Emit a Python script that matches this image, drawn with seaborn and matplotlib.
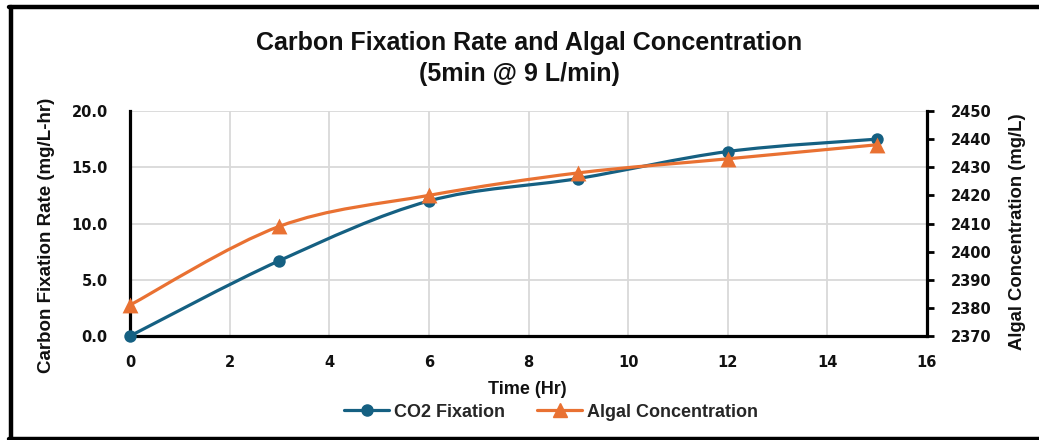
import numpy as np
import matplotlib
matplotlib.use("Agg")
import matplotlib.pyplot as plt
import seaborn as sns
from matplotlib.path import Path
from matplotlib.patches import PathPatch
from matplotlib.lines import Line2D

# ---- data ----
time_hr = [0, 3, 6, 9, 12, 15]
co2_fixation = [0.0, 6.7, 12.0, 14.0, 16.4, 17.5]
algal_conc = [2381, 2409, 2420, 2428, 2433, 2438]
x_ticks = [0, 2, 4, 6, 8, 10, 12, 14, 16]
left_ticks = [0, 5, 10, 15, 20]
right_ticks = [2370, 2380, 2390, 2400, 2410, 2420, 2430, 2440, 2450]
series_names = ["CO2 Fixation", "Algal Concentration"]

BLUE = "#156082"
ORANGE = "#E97132"
TXT = "#111111"

sns.set_theme(style="white")
plt.rcParams['font.family'] = ['Liberation Sans', 'DejaVu Sans']
TICKFAM = ['DejaVu Sans']

fig = plt.figure(figsize=(10.39, 4.4), dpi=100)
ax = fig.add_axes([130/1039, 1-336/440, (927-130)/1039, (336-111)/440])
ax2 = ax.twinx()


def smooth_path(xs, ys):
    pts = np.column_stack([xs, ys]).astype(float)
    n = len(pts)
    verts = [pts[0]]
    codes = [Path.MOVETO]
    for i in range(n - 1):
        p0 = pts[i - 1] if i > 0 else pts[i]
        p1 = pts[i]
        p2 = pts[i + 1]
        p3 = pts[i + 2] if i + 2 < n else pts[i + 1]
        c1 = p1 + (p2 - p0) / 6.0
        c2 = p2 - (p3 - p1) / 6.0
        verts += [c1, c2, p2]
        codes += [Path.CURVE4] * 3
    return Path(verts, codes)


# smoothed lines, as in the reference
ax.add_patch(PathPatch(smooth_path(time_hr, co2_fixation), fill=False,
                       edgecolor=BLUE, lw=2.3, zorder=3))
ax2.add_patch(PathPatch(smooth_path(time_hr, algal_conc), fill=False,
                        edgecolor=ORANGE, lw=2.3, zorder=3))

sns.scatterplot(x=time_hr, y=co2_fixation, ax=ax, color=BLUE, marker="o",
                s=80, edgecolor=BLUE, linewidth=0, zorder=4, clip_on=False)
sns.scatterplot(x=time_hr, y=algal_conc, ax=ax2, color=ORANGE, marker="^",
                s=130, edgecolor=ORANGE, linewidth=0, zorder=4, clip_on=False)

ax.set_xlim(0, 16)
ax.set_ylim(0, 20)
ax2.set_ylim(2370, 2450)
ax.set_xticks(x_ticks)
ax.set_xticklabels([str(v) for v in x_ticks])
ax.set_yticks(left_ticks)
ax.set_yticklabels([f"{v:.1f}" for v in left_ticks])
ax2.set_yticks(right_ticks)
ax2.set_yticklabels([str(v) for v in right_ticks])

ax.grid(True, color="#d9d9d9", lw=1.3)
ax.set_axisbelow(True)
ax2.grid(False)

for s in ["top", "right"]:
    ax.spines[s].set_visible(False)
for s in ["top", "left", "bottom"]:
    ax2.spines[s].set_visible(False)
for sp in [ax.spines["left"], ax.spines["bottom"], ax2.spines["right"]]:
    sp.set_color("black")
    sp.set_linewidth(2.3)

ax.tick_params(axis="x", length=0, pad=14)
ax.tick_params(axis="y", length=0, pad=16)
ax2.tick_params(axis="y", length=5, width=2, direction="out", pad=12,
                colors="black", right=True)
for lab in ax.get_xticklabels() + ax.get_yticklabels() + ax2.get_yticklabels():
    lab.set_fontweight("bold")
    lab.set_color(TXT)
    lab.set_fontsize(10.5)
    lab.set_family(TICKFAM)

ax.set_xlabel("Time (Hr)", fontsize=13, fontweight="bold", color=TXT)
ax.xaxis.set_label_coords(0.498, -(389-336)/225)
ax.xaxis.label.set_va("center")

ax.set_ylabel("Carbon Fixation Rate (mg/L-hr)", fontsize=13.5,
              fontweight="bold", color=TXT)
ax.yaxis.set_label_coords((47-130)/797, (336-235)/225)
ax.yaxis.label.set_va("center")

ax2.set_ylabel("Algal Concentration (mg/L)", fontsize=13.3, fontweight="bold",
               color=TXT)
ax2.yaxis.set_label_coords((1017-130)/797, (336-232)/225)
ax2.yaxis.label.set_va("center")

fig.text(529/1039, 1-43/440, "Carbon Fixation Rate and Algal Concentration",
         ha="center", va="center", fontsize=18, fontweight="bold", color=TXT)
fig.text(519/1039, 1-74/440, "(5min @ 9 L/min)",
         ha="center", va="center", fontsize=18, fontweight="bold", color=TXT)

handles = [
    Line2D([0], [0], color=BLUE, lw=2.3, marker="o", markersize=8),
    Line2D([0], [0], color=ORANGE, lw=2.3, marker="^", markersize=10),
]
fig.legend(handles, series_names,
           loc="center", bbox_to_anchor=(551/1039, 1-412/440), ncol=2,
           frameon=False, handlelength=2.5, columnspacing=1.8,
           handletextpad=0.25,
           prop={"size": 13, "weight": "bold",
                 "family": ['Liberation Sans', 'DejaVu Sans']})

# outer chart border (top, left, bottom)
fig.add_artist(Line2D([9/1039, 1.0], [1-7/440, 1-7/440], color="black", lw=3.2,
                      transform=fig.transFigure))
fig.add_artist(Line2D([11/1039, 11/1039], [1-7/440, 1-438.5/440], color="black",
                      lw=3.2, transform=fig.transFigure))
fig.add_artist(Line2D([9/1039, 1.0], [1-438.5/440, 1-438.5/440], color="black",
                      lw=3.2, transform=fig.transFigure))

fig.savefig("out.png", dpi=100)
